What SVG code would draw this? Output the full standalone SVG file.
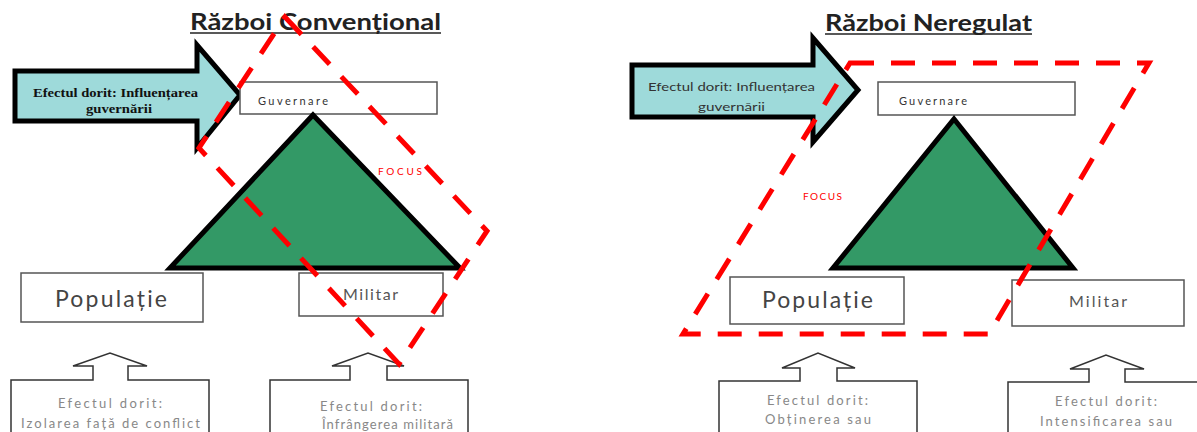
<svg xmlns="http://www.w3.org/2000/svg" width="1197" height="432" viewBox="0 0 1197 432">
<style>
.title{font-family:Lato,"Liberation Sans",sans-serif;font-size:22px;font-weight:bold;fill:#222}
.ul{stroke:#222;stroke-width:1.6}
.arrow{fill:#9edada;stroke:#000;stroke-width:5;stroke-linejoin:miter}
.box{fill:#fff;stroke:#555;stroke-width:1.5}
.tri{fill:#339966;stroke:#000;stroke-width:5;stroke-linejoin:miter}
.call{fill:#fff;stroke:#333;stroke-width:1.5}
.focus{fill:none;stroke:#ff0000;stroke-width:5;stroke-dasharray:24 17}
.small{font-family:Lato,"Liberation Sans",sans-serif;font-size:11px;fill:#333}
.big{font-family:Lato,"Liberation Sans",sans-serif;font-size:23px;fill:#444}
.mid{font-family:Lato,"Liberation Sans",sans-serif;font-size:16px;fill:#555}
.ct{font-family:Lato,"Liberation Sans",sans-serif;font-size:13px;fill:#888}
.ft{font-family:Lato,"Liberation Sans",sans-serif;font-size:10px;fill:#ff0000}
.serif{font-family:"Liberation Serif",serif;font-size:12px;font-weight:bold;fill:#111}
</style>
<g id="title-left"><text class="title" x="190" y="30" textLength="251" lengthAdjust="spacingAndGlyphs">Război Convențional</text><line class="ul" x1="190" y1="33" x2="441" y2="33"/></g>
<g id="title-right"><text class="title" x="825" y="31" textLength="207" lengthAdjust="spacingAndGlyphs">Război Neregulat</text><line class="ul" x1="825" y1="34" x2="1032" y2="34"/></g>

<g id="arrow-left"><polygon class="arrow" points="15,71 197,71 197,45 240,95 197,148 197,121 15,121"/>
<text class="serif" x="33" y="97" textLength="165" lengthAdjust="spacingAndGlyphs">Efectul dorit: Influențarea</text>
<text class="serif" x="86" y="113" textLength="66" lengthAdjust="spacingAndGlyphs">guvernării</text></g>
<g id="arrow-right"><polygon class="arrow" points="632,65 813,65 813,38 858,90 813,142 813,117 632,117"/>
<text class="small" x="648" y="91" textLength="167" lengthAdjust="spacingAndGlyphs">Efectul dorit: Influențarea</text>
<text class="small" x="698" y="111" textLength="67" lengthAdjust="spacingAndGlyphs">guvernării</text></g>

<g id="guv-left"><rect class="box" x="240" y="82" width="197" height="32"/><text class="small" x="258" y="105" textLength="70" lengthAdjust="spacing">Guvernare</text></g>
<g id="guv-right"><rect class="box" x="878" y="82" width="197" height="33"/><text class="small" x="899" y="105" textLength="68" lengthAdjust="spacing">Guvernare</text></g>

<g id="tri-left"><polygon class="tri" points="313,115 460,268 170,268"/></g>
<g id="tri-right"><polygon class="tri" points="954,119 1073,268 833,268"/></g>

<g id="pop-left"><rect class="box" x="21" y="273" width="182" height="49"/><text class="big" x="55" y="307" textLength="112" lengthAdjust="spacing">Populație</text></g>
<g id="mil-left"><rect class="box" x="299" y="273" width="144" height="43"/><text class="mid" x="343" y="300" textLength="55" lengthAdjust="spacing">Militar</text></g>
<g id="pop-right"><rect class="box" x="730" y="277" width="174" height="47"/><text class="big" x="762" y="308" textLength="111" lengthAdjust="spacing">Populație</text></g>
<g id="mil-right"><rect class="box" x="1012" y="280" width="172" height="46"/><text class="mid" x="1069" y="307" textLength="58" lengthAdjust="spacing">Militar</text></g>

<g id="call-left-1"><polygon class="call" points="11,445 11,380 93,380 93,366 73,366 110,353 147,366 128,366 128,380 209,380 209,445"/>
<text class="ct" x="58" y="408" textLength="104" lengthAdjust="spacing">Efectul dorit:</text>
<text class="ct" x="21" y="428" textLength="179" lengthAdjust="spacing">Izolarea față de conflict</text></g>
<g id="call-left-2"><polygon class="call" points="270,445 270,380 350,380 350,366 332,366 368,353 404,366 387,366 387,380 468,380 468,445"/>
<text class="ct" x="320" y="411" textLength="102" lengthAdjust="spacing">Efectul dorit:</text>
<text class="ct" x="322" y="429" textLength="131" lengthAdjust="spacing">Înfrângerea militară</text></g>
<g id="call-right-1"><polygon class="call" points="719,445 719,381 800,381 800,368 782,368 818,353 855,368 837,368 837,381 917,381 917,445"/>
<text class="ct" x="767" y="405" textLength="101" lengthAdjust="spacing">Efectul dorit:</text>
<text class="ct" x="765" y="424" textLength="106" lengthAdjust="spacing">Obținerea sau</text></g>
<g id="call-right-2"><polygon class="call" points="1008,445 1008,382 1089,382 1089,369 1070,369 1106,355 1144,369 1125,369 1125,382 1206,382 1206,445"/>
<text class="ct" x="1055" y="406" textLength="102" lengthAdjust="spacing">Efectul dorit:</text>
<text class="ct" x="1040" y="426" textLength="132" lengthAdjust="spacing">Intensificarea sau</text></g>

<g id="connectors">
<polygon class="focus" points="285,17 487,231 399,364 199,148"/>
<polygon class="focus" points="850,63 1149,63 989,334 683,334"/>
</g>
<g id="focus-left"><text class="ft" x="378" y="175" textLength="44" lengthAdjust="spacing">FOCUS</text></g>
<g id="focus-right"><text class="ft" x="803" y="200" textLength="39" lengthAdjust="spacing">FOCUS</text></g>
</svg>
